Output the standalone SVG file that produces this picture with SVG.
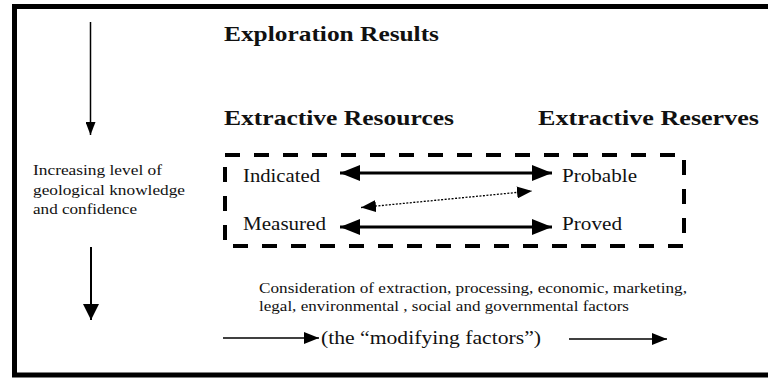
<svg xmlns="http://www.w3.org/2000/svg" width="768" height="379" viewBox="0 0 768 379">
<defs>
<style>
.t{font-family:"Liberation Serif","Times New Roman",serif;fill:#111}
.b{font-weight:bold}
.ln{stroke:#000;fill:none}
</style>
<marker id="hBig" viewBox="0 0 20 16" refX="20" refY="8" markerWidth="20" markerHeight="16" markerUnits="userSpaceOnUse" orient="auto-start-reverse"><path d="M0,0 L20,8 L0,16 Z" fill="#000"/></marker>
<marker id="hMid" viewBox="0 0 15 12" refX="15" refY="6" markerWidth="15" markerHeight="12" markerUnits="userSpaceOnUse" orient="auto-start-reverse"><path d="M0,0 L15,6 L0,12 Z" fill="#000"/></marker>
<marker id="hSmall" viewBox="0 0 13 10" refX="13" refY="5" markerWidth="13" markerHeight="10" markerUnits="userSpaceOnUse" orient="auto"><path d="M0,0 L13,5 L0,10 Z" fill="#000"/></marker>
<marker id="hDown" viewBox="0 0 16 17" refX="16" refY="8" markerWidth="16" markerHeight="17" markerUnits="userSpaceOnUse" orient="auto"><path d="M0,0 L16,8 L0,16 Z" fill="#000"/></marker>
</defs>
<rect width="768" height="379" fill="#fff"/>
<g id="frame"><rect x="14.5" y="6.5" width="800" height="368.5" class="ln" stroke-width="5"/></g>
<g id="title"><text class="t b" x="224" y="41" font-size="21" textLength="215" lengthAdjust="spacingAndGlyphs">Exploration Results</text></g>
<g id="resources"><text class="t b" x="224" y="125" font-size="21" textLength="230" lengthAdjust="spacingAndGlyphs">Extractive Resources</text></g>
<g id="reserves"><text class="t b" x="538" y="125" font-size="21" textLength="221" lengthAdjust="spacingAndGlyphs">Extractive Reserves</text></g>
<g id="knowledge">
<text class="t" x="33" y="175" font-size="14" textLength="129" lengthAdjust="spacingAndGlyphs">Increasing level of</text>
<text class="t" x="33" y="195" font-size="14" textLength="152" lengthAdjust="spacingAndGlyphs">geological knowledge</text>
<text class="t" x="33" y="214" font-size="14" textLength="104" lengthAdjust="spacingAndGlyphs">and confidence</text>
</g>
<g id="box"><rect x="225" y="155" width="459" height="91" class="ln" stroke-width="4" stroke-dasharray="15 14"/></g>
<g id="indicated"><text class="t" x="243" y="182" font-size="18" textLength="77" lengthAdjust="spacingAndGlyphs">Indicated</text></g>
<g id="measured"><text class="t" x="243" y="230" font-size="18" textLength="83" lengthAdjust="spacingAndGlyphs">Measured</text></g>
<g id="probable"><text class="t" x="562" y="182" font-size="18" textLength="75" lengthAdjust="spacingAndGlyphs">Probable</text></g>
<g id="proved"><text class="t" x="562" y="230" font-size="18" textLength="60" lengthAdjust="spacingAndGlyphs">Proved</text></g>
<g id="factors">
<text class="t" x="259" y="293" font-size="15" textLength="428" lengthAdjust="spacingAndGlyphs">Consideration of extraction, processing, economic, marketing,</text>
<text class="t" x="259" y="311" font-size="15" textLength="370" lengthAdjust="spacingAndGlyphs">legal, environmental , social and governmental factors</text>
</g>
<g id="modifying"><text class="t" x="321" y="344" font-size="19" textLength="220" lengthAdjust="spacingAndGlyphs">(the “modifying factors”)</text></g>
<g id="connectors">
<line x1="90.5" y1="22" x2="90.5" y2="135" class="ln" stroke-width="1.5" marker-end="url(#hSmall)"/>
<line x1="91" y1="247" x2="91" y2="320" class="ln" stroke-width="2" marker-end="url(#hDown)"/>
<line x1="340" y1="173" x2="552" y2="173" class="ln" stroke-width="3" marker-start="url(#hBig)" marker-end="url(#hBig)"/>
<line x1="340" y1="227" x2="552" y2="227" class="ln" stroke-width="3" marker-start="url(#hBig)" marker-end="url(#hBig)"/>
<line x1="361" y1="207.5" x2="532" y2="191" class="ln" stroke-width="1.3" stroke-dasharray="2 1.5" marker-start="url(#hMid)" marker-end="url(#hMid)"/>
<line x1="223" y1="338" x2="319" y2="338" class="ln" stroke-width="1.5" marker-end="url(#hMid)"/>
<line x1="569" y1="339" x2="667" y2="339" class="ln" stroke-width="1.5" marker-end="url(#hMid)"/>
</g>
</svg>
